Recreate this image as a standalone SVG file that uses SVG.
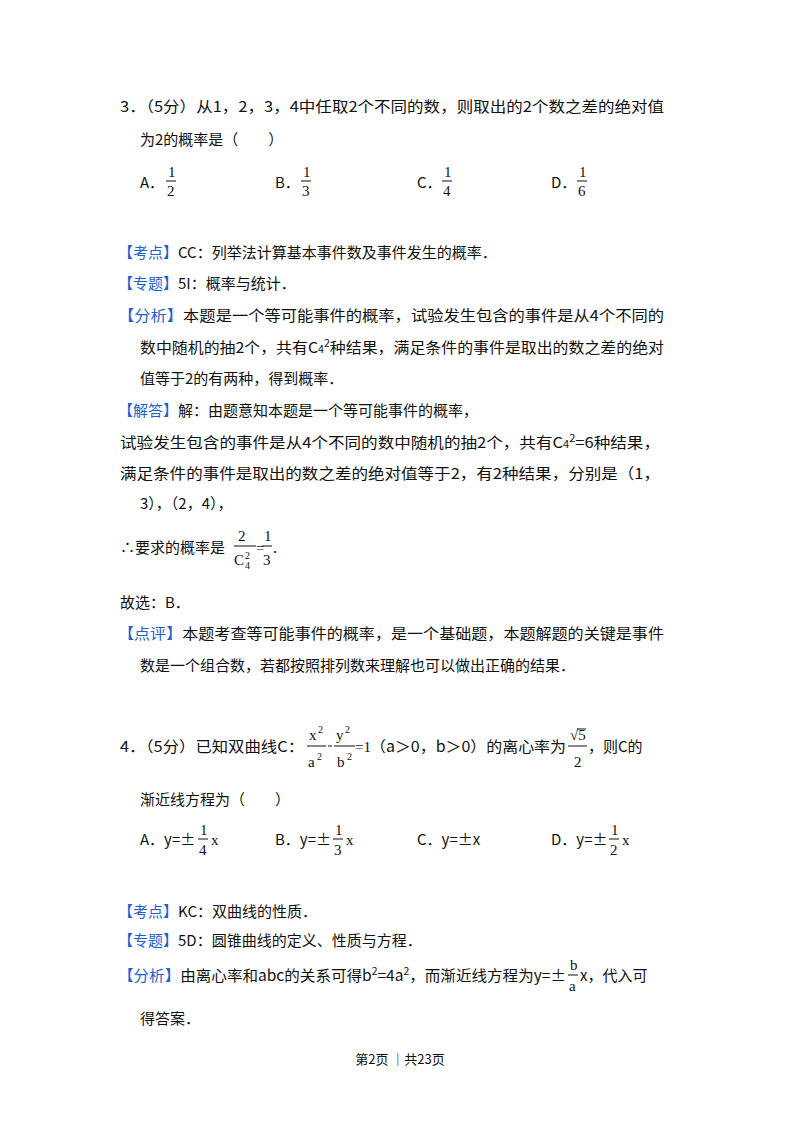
<svg xmlns="http://www.w3.org/2000/svg" width="800" height="1132" viewBox="0 0 800 1132">
<style>
text{font-family:"Noto Sans CJK SC","Liberation Sans",sans-serif;font-size:15px;fill:#111}
.b{fill:#1f5fd0}
.m{font-family:"Liberation Serif",serif;font-size:15px}
.s{font-size:10px}
line{stroke:#111;stroke-width:1}
</style>
<rect width="800" height="1132" fill="#fff"/>
<text x="120" y="112" textLength="544" lengthAdjust="spacingAndGlyphs">3．（5分）从1，2，3，4中任取2个不同的数，则取出的2个数之差的绝对值</text>
<text x="140" y="145">为2的概率是（　　）</text>
<g>
<text x="140" y="188">A．</text><text class="m" x="168" y="177">1</text><line x1="166" y1="181" x2="176" y2="181"/><text class="m" x="167" y="196">2</text>
<text x="275" y="188">B．</text><text class="m" x="303" y="177">1</text><line x1="301" y1="181" x2="311" y2="181"/><text class="m" x="302" y="196">3</text>
<text x="417" y="188">C．</text><text class="m" x="444" y="177">1</text><line x1="442" y1="181" x2="452" y2="181"/><text class="m" x="443" y="196">4</text>
<text x="551" y="188">D．</text><text class="m" x="579" y="177">1</text><line x1="577" y1="181" x2="587" y2="181"/><text class="m" x="578" y="196">6</text>
</g>
<text x="118" y="258"><tspan class="b">【考点】</tspan>CC：列举法计算基本事件数及事件发生的概率．</text>
<text x="118" y="289"><tspan class="b">【专题】</tspan>5I：概率与统计．</text>
<text x="118" y="321" textLength="546" lengthAdjust="spacingAndGlyphs"><tspan class="b">【分析】</tspan>本题是一个等可能事件的概率，试验发生包含的事件是从4个不同的</text>
<text x="140" y="353" textLength="524" lengthAdjust="spacingAndGlyphs">数中随机的抽2个，共有C<tspan class="s">4</tspan><tspan class="s" dy="-6">2</tspan><tspan dy="6">种结果，满足条件的事件是取出的数之差的绝对</tspan></text>
<text x="140" y="384">值等于2的有两种，得到概率．</text>
<text x="118" y="416"><tspan class="b">【解答】</tspan>解：由题意知本题是一个等可能事件的概率，</text>
<text x="120" y="448" textLength="540" lengthAdjust="spacingAndGlyphs">试验发生包含的事件是从4个不同的数中随机的抽2个，共有C<tspan class="s">4</tspan><tspan class="s" dy="-6">2</tspan><tspan dy="6">=6种结果，</tspan></text>
<text x="120" y="479" textLength="540" lengthAdjust="spacingAndGlyphs">满足条件的事件是取出的数之差的绝对值等于2，有2种结果，分别是（1，</text>
<text x="140" y="509">3），（2，4），</text>
<text x="120" y="553">∴要求的概率是</text>
<text class="m" x="238" y="541">2</text><line x1="234" y1="546" x2="256" y2="546"/><text class="m" x="234" y="565">C</text><text class="m s" x="245" y="559">2</text><text class="m s" x="245" y="569">4</text>
<text class="m" x="256" y="553">=</text><text class="m" x="264" y="541">1</text><line x1="262" y1="546" x2="272" y2="546"/><text class="m" x="263" y="565">3</text><text x="273" y="553">.</text>
<text x="120" y="608">故选：B．</text>
<text x="118" y="639" textLength="546" lengthAdjust="spacingAndGlyphs"><tspan class="b">【点评】</tspan>本题考查等可能事件的概率，是一个基础题，本题解题的关键是事件</text>
<text x="140" y="671">数是一个组合数，若都按照排列数来理解也可以做出正确的结果．</text>
<text x="120" y="752" textLength="184" lengthAdjust="spacingAndGlyphs">4．（5分）已知双曲线C：</text>
<text class="m" x="309" y="740">x</text><text class="m s" x="318" y="733">2</text><line x1="307" y1="746" x2="326" y2="746"/><text class="m" x="308" y="767">a</text><text class="m s" x="317" y="760">2</text>
<line x1="328" y1="746" x2="332" y2="746"/>
<text class="m" x="336" y="740">y</text><text class="m s" x="345" y="733">2</text><line x1="334" y1="746" x2="355" y2="746"/><text class="m" x="337" y="767">b</text><text class="m s" x="347" y="760">2</text>
<text class="m" x="355" y="752">=1</text>
<text x="370" y="752" textLength="196" lengthAdjust="spacingAndGlyphs">（a＞0，b＞0）的离心率为</text>
<text class="m" x="570" y="740">√5</text><line x1="577" y1="729" x2="586" y2="729"/><line x1="568" y1="746" x2="587" y2="746"/><text class="m" x="574" y="767">2</text>
<text x="588" y="752">，则C的</text>
<text x="140" y="805">渐近线方程为（　　）</text>
<g>
<text x="140" y="845">A．y=±</text><text class="m" x="200" y="835">1</text><line x1="198" y1="839" x2="208" y2="839"/><text class="m" x="199" y="855">4</text><text class="m" x="211" y="845">x</text>
<text x="275" y="845">B．y=±</text><text class="m" x="335" y="835">1</text><line x1="333" y1="839" x2="343" y2="839"/><text class="m" x="334" y="855">3</text><text class="m" x="346" y="845">x</text>
<text x="417" y="845">C．y=±x</text>
<text x="551" y="845">D．y=±</text><text class="m" x="611" y="835">1</text><line x1="609" y1="839" x2="619" y2="839"/><text class="m" x="610" y="855">2</text><text class="m" x="622" y="845">x</text>
</g>
<text x="118" y="917"><tspan class="b">【考点】</tspan>KC：双曲线的性质．</text>
<text x="118" y="946"><tspan class="b">【专题】</tspan>5D：圆锥曲线的定义、性质与方程．</text>
<text x="118" y="981" textLength="448" lengthAdjust="spacingAndGlyphs"><tspan class="b">【分析】</tspan>由离心率和abc的关系可得b<tspan class="s" dy="-6">2</tspan><tspan dy="6">=4a</tspan><tspan class="s" dy="-6">2</tspan><tspan dy="6">，而渐近线方程为y=±</tspan></text>
<text class="m" x="570" y="970">b</text><line x1="568" y1="975" x2="578" y2="975"/><text class="m" x="569" y="991">a</text>
<text x="580" y="981">x，代入可</text>
<text x="140" y="1024">得答案．</text>
<text x="400" y="1064" text-anchor="middle" style="font-size:13px">第2页 ｜共23页</text>
</svg>
